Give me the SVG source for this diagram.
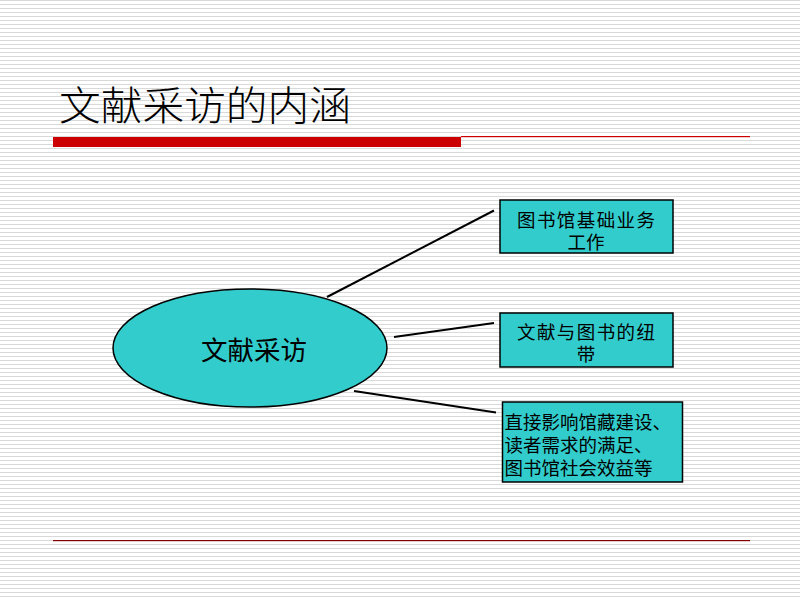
<svg xmlns="http://www.w3.org/2000/svg" width="800" height="600" viewBox="0 0 800 600">
  <defs>
    <pattern id="stripes" x="0" y="0" width="800" height="4" patternUnits="userSpaceOnUse">
      <rect x="0" y="0" width="800" height="4" fill="#ffffff"/>
      <rect x="0" y="0" width="800" height="1" fill="#d9d9d9"/>
    </pattern>
  </defs>
  <style>
    .node { fill: #33cccc; stroke: #000000; stroke-width: 1.5; }
    .conn { stroke: #000000; stroke-width: 2; fill: none; }
    .cjk { font-family: "Noto Sans CJK SC", "Noto Sans", sans-serif; fill: #000000; }
    .box { font-size: 18.5px; text-anchor: middle; }
    .boxl { font-size: 18.5px; }
  </style>
  <rect x="0" y="0" width="800" height="600" fill="url(#stripes)"/>

  <g id="title">
    <text class="cjk" x="59" y="120" font-size="40" font-weight="300" textLength="292" lengthAdjust="spacingAndGlyphs">文献采访的内涵</text>
    <rect x="53" y="137" width="408" height="10" fill="#cc0000"/>
    <rect x="461" y="136" width="289" height="1.2" fill="#cc0000"/>
  </g>

  <g id="footer">
    <rect x="53" y="540" width="697" height="1.2" fill="#800000"/>
  </g>

  <g id="connectors">
    <line class="conn" x1="327" y1="297" x2="494" y2="210.5"/>
    <line class="conn" x1="394" y1="337" x2="494" y2="323"/>
    <line class="conn" x1="354" y1="391" x2="496" y2="412.5"/>
  </g>

  <g id="center">
    <ellipse class="node" cx="250" cy="348" rx="137" ry="59"/>
    <text class="cjk" x="254" y="360" font-size="26.5" text-anchor="middle">文献采访</text>
  </g>

  <g id="box1">
    <rect class="node" x="500" y="200" width="173" height="53"/>
    <text class="cjk box" x="586" y="227" textLength="138" lengthAdjust="spacing">图书馆基础业务</text>
    <text class="cjk box" x="586" y="249">工作</text>
  </g>

  <g id="box2">
    <rect class="node" x="500" y="313" width="173" height="54"/>
    <text class="cjk box" x="586" y="339" textLength="138" lengthAdjust="spacing">文献与图书的纽</text>
    <text class="cjk box" x="586" y="361">带</text>
  </g>

  <g id="box3">
    <rect class="node" x="502.5" y="402" width="180" height="80"/>
    <text class="cjk boxl" x="504.5" y="429">直接影响馆藏建设、</text>
    <text class="cjk boxl" x="504.5" y="452">读者需求的满足、</text>
    <text class="cjk boxl" x="504.5" y="475">图书馆社会效益等</text>
  </g>
</svg>
